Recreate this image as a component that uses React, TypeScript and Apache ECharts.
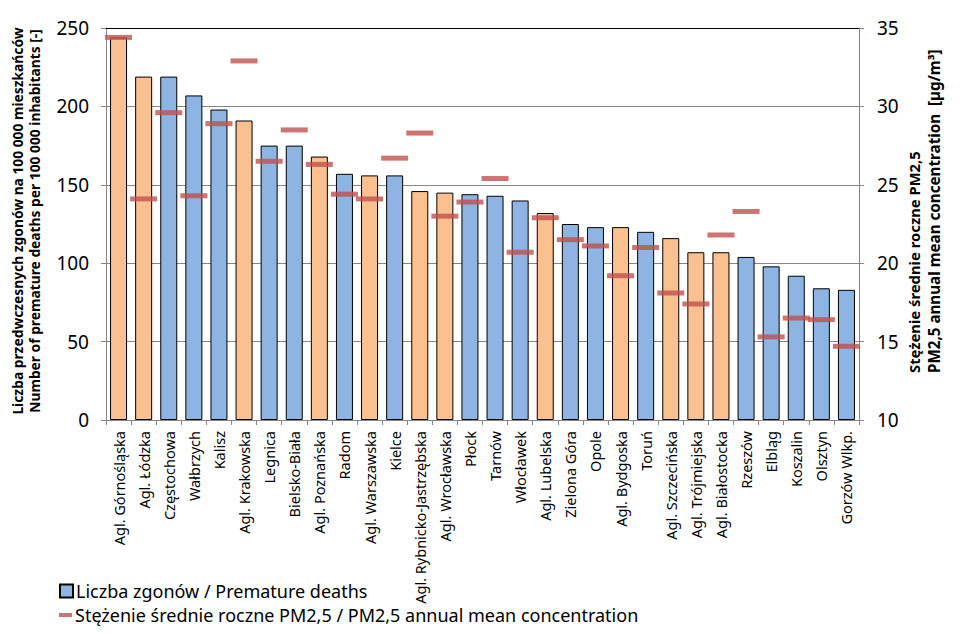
import React, { useEffect, useRef } from "react";
import * as echarts from "echarts";

const categories = [
  "Agl. Górnośląska", "Agl. Łódzka", "Częstochowa", "Wałbrzych", "Kalisz",
  "Agl. Krakowska", "Legnica", "Bielsko-Biała", "Agl. Poznańska", "Radom",
  "Agl. Warszawska", "Kielce", "Agl. Rybnicko-Jastrzębska", "Agl. Wrocławska", "Płock",
  "Tarnów", "Włocławek", "Agl. Lubelska", "Zielona Góra", "Opole",
  "Agl. Bydgoska", "Toruń", "Agl. Szczecińska", "Agl. Trójmiejska", "Agl. Białostocka",
  "Rzeszów", "Elbląg", "Koszalin", "Olsztyn", "Gorzów Wlkp.",
];

const deaths = [
  244, 219, 219, 207, 198, 191, 175, 175, 168, 157,
  156, 156, 146, 145, 144, 143, 140, 132, 125, 123,
  123, 120, 116, 107, 107, 104, 98, 92, 84, 83,
];

const pm25 = [
  34.4, 24.1, 29.6, 24.3, 28.9, 32.9, 26.5, 28.5, 26.3, 24.4,
  24.1, 26.7, 28.3, 23.0, 23.9, 25.4, 20.7, 22.9, 21.5, 21.1,
  19.2, 21.0, 18.1, 17.4, 21.8, 23.3, 15.3, 16.5, 16.4, 14.7,
];

const leftTicks = { min: 0, max: 250, interval: 50 };
const rightTicks = { min: 10, max: 35, interval: 5 };

const barName = "Liczba zgonów / Premature deaths";
const lineName = "Stężenie średnie roczne PM2,5 / PM2,5 annual mean concentration";

const BLUE = "#8DB4E2";
const ORANGE = "#FAC08F";
const RED = "#C0504D";
const GRID = "#868686";
const FONT = "Noto Sans";

export default function App() {
  const ref = useRef<HTMLDivElement>(null);
  useEffect(() => {
    if (!ref.current) return;
    const chart = echarts.init(ref.current, undefined, { renderer: "svg" });
    const option: any = {
      animation: false,
      textStyle: { fontFamily: FONT, color: "#000" },
      grid: { left: 106, right: 116, top: 28, bottom: 214, containLabel: false },
      legend: [
        {
          orient: "vertical",
          left: 54,
          top: 577,
          itemWidth: 13,
          itemHeight: 13,
          data: [{ name: barName, icon: "rect" }],
          textStyle: { fontFamily: FONT, fontSize: 18, color: "#000", padding: [0, 0, 0, -2] },
        },
        {
          orient: "vertical",
          left: 54,
          top: 601,
          itemWidth: 13,
          itemHeight: 4,
          data: [{ name: lineName, icon: "rect" }],
          textStyle: { fontFamily: FONT, fontSize: 18, color: "#000", padding: [0, 0, 0, -2] },
        },
      ],
      xAxis: {
        type: "category",
        data: categories,
        boundaryGap: true,
        axisLine: { show: true, lineStyle: { color: GRID, width: 1 } },
        axisTick: { show: true, alignWithLabel: false, length: 5, lineStyle: { color: GRID } },
        axisLabel: {
          interval: 0,
          rotate: 90,
          margin: 11,
          fontFamily: FONT,
          fontSize: 14.5,
          color: "#000",
        },
      },
      yAxis: [
        {
          type: "value",
          min: leftTicks.min,
          max: leftTicks.max,
          interval: leftTicks.interval,
          position: "left",
          axisLine: { show: true, lineStyle: { color: GRID } },
          axisTick: { show: true, length: 5, lineStyle: { color: GRID } },
          axisLabel: { margin: 17, fontFamily: FONT, fontSize: 19, color: "#000" },
          splitLine: { show: true, lineStyle: { color: GRID, width: 1 } },
        },
        {
          type: "value",
          min: rightTicks.min,
          max: rightTicks.max,
          interval: rightTicks.interval,
          position: "right",
          axisLine: { show: true, lineStyle: { color: GRID } },
          axisTick: { show: true, length: 5, lineStyle: { color: GRID } },
          axisLabel: { margin: 18, fontFamily: FONT, fontSize: 19, color: "#000" },
          splitLine: { show: false },
        },
      ],
      series: [
        {
          name: barName,
          type: "bar",
          yAxisIndex: 0,
          barWidth: 17,
          itemStyle: { color: BLUE, borderColor: "#000", borderWidth: 1 },
          data: deaths.map((v, i) => ({
            value: v,
            itemStyle: {
              color: categories[i].startsWith("Agl.") ? ORANGE : BLUE,
              borderColor: "#000",
              borderWidth: 1,
            },
          })),
          z: 2,
        },
        {
          name: lineName,
          type: "scatter",
          yAxisIndex: 1,
          symbol: "rect",
          symbolSize: [27, 5],
          itemStyle: { color: RED },
          data: pm25,
          z: 5,
        },
      ],
      graphic: [
        {
          type: "line",
          shape: { x1: 106, y1: 28.5, x2: 859, y2: 28.5 },
          style: { stroke: "#000", lineWidth: 1 },
          z: 1,
        },
        {
          type: "text",
          x: 17,
          y: 221,
          rotation: Math.PI / 2,
          style: {
            text: "Liczba przedwczesnych zgonów na 100 000 mieszkańców",
            fontFamily: FONT,
            fontWeight: "bold",
            fontSize: 13.8,
            fill: "#000",
            align: "center",
            verticalAlign: "middle",
          },
        },
        {
          type: "text",
          x: 34,
          y: 221,
          rotation: Math.PI / 2,
          style: {
            text: "Number of premature deaths per 100 000 inhabitants [-]",
            fontFamily: FONT,
            fontWeight: "bold",
            fontSize: 13.8,
            fill: "#000",
            align: "center",
            verticalAlign: "middle",
          },
        },
        {
          type: "text",
          x: 914,
          y: 373,
          rotation: Math.PI / 2,
          style: {
            text: "Stężenie średnie roczne PM2,5",
            fontFamily: FONT,
            fontWeight: "bold",
            fontSize: 14.8,
            fill: "#000",
            align: "left",
            verticalAlign: "middle",
          },
        },
        {
          type: "text",
          x: 934,
          y: 373,
          rotation: Math.PI / 2,
          style: {
            text: "PM2,5 annual mean concentration  [µg/m³]",
            fontFamily: FONT,
            fontWeight: "bold",
            fontSize: 15.2,
            fill: "#000",
            align: "left",
            verticalAlign: "middle",
          },
        },
      ],
    };
    chart.setOption(option);
    return () => chart.dispose();
  }, []);
  return <div ref={ref} style={{ width: 975, height: 634, position: "absolute", left: 0, top: 0 }} />;
}
